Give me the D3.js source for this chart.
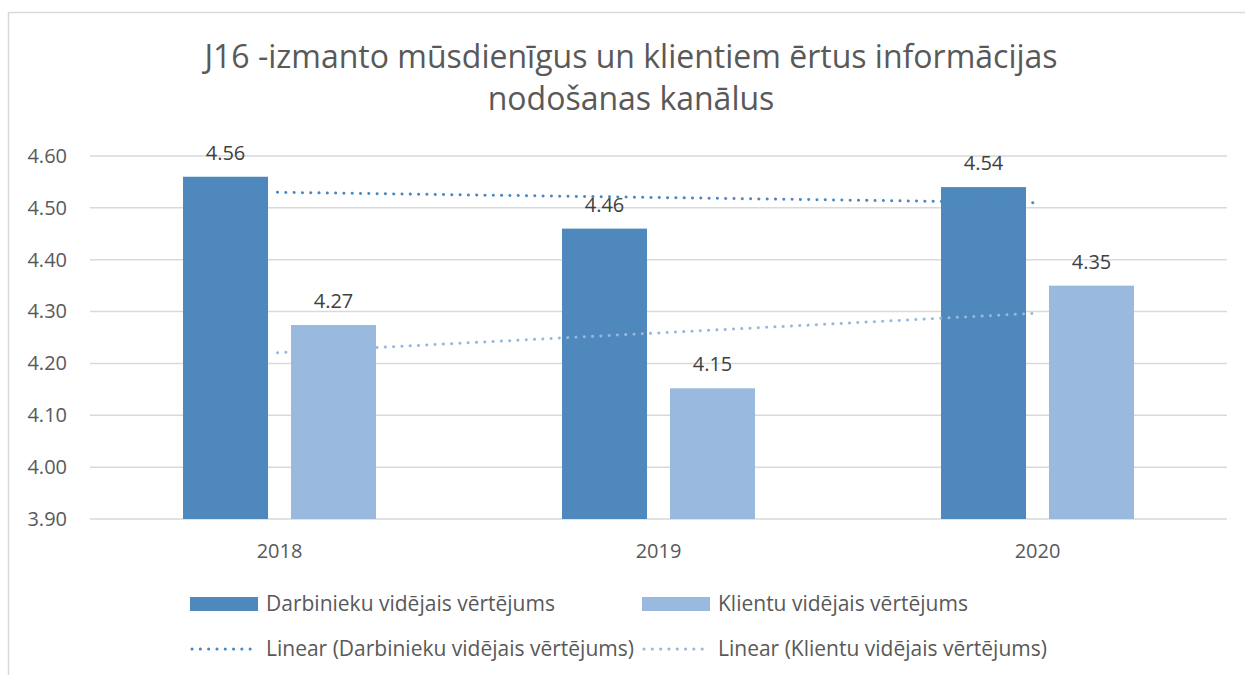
<!DOCTYPE html>
<html>
<head>
<meta charset="utf-8">
<script src="https://cdn.jsdelivr.net/npm/d3@7"></script>
<style>
  body { margin: 0; background: #fff; }
  text { font-family: "Open Sans", sans-serif; }
</style>
</head>
<body>
<div id="chart"></div>
<script>
var svgWidth = 1245;
var svgHeight = 675;

// data
var years = ["2018", "2019", "2020"];
var darbinieki = [4.56, 4.46, 4.54];
var klienti = [4.274, 4.152, 4.35];
var yTicks = [3.9, 4.0, 4.1, 4.2, 4.3, 4.4, 4.5, 4.6];
var seriesNames = ["Darbinieku vidējais vērtējums", "Klientu vidējais vērtējums"];
var titleLines = ["J16 -izmanto mūsdienīgus un klientiem ērtus informācijas", "nodošanas kanālus"];

var colors = ["#4f88bc", "#9ab9df"];
var trendColors = ["#4a86c0", "#95b7e0"];

var plot = { left: 90, right: 1227, top: 156, bottom: 519 };

var svg = d3.select("#chart")
  .append("svg")
  .attr("width", svgWidth)
  .attr("height", svgHeight);

// chart border (only left & top visible in the crop)
svg.append("path")
  .attr("d", "M8.5,675 V12.5 H1245")
  .attr("fill", "none")
  .attr("stroke", "#d9d9d9")
  .attr("stroke-width", 1.5);

// title
svg.append("g").selectAll("text")
  .data(titleLines)
  .enter()
  .append("text")
  .attr("x", 631)
  .attr("y", (d, i) => 68 + i * 42)
  .attr("text-anchor", "middle")
  .attr("font-size", "32px")
  .attr("fill", "#595959")
  .text(d => d);

// scales
var xScale = d3.scaleBand()
  .domain(years)
  .range([plot.left, plot.right]);
var yScale = d3.scaleLinear()
  .domain([3.9, 4.6])
  .range([plot.bottom, plot.top]);

var barW = 85, barGap = 23;
var groupW = barW * 2 + barGap;
function barX(year, s) {
  return xScale(year) + xScale.bandwidth() / 2 - groupW / 2 + s * (barW + barGap);
}

// gridlines
svg.append("g").selectAll("line")
  .data(yTicks)
  .enter()
  .append("line")
  .attr("x1", plot.left)
  .attr("x2", plot.right)
  .attr("y1", d => yScale(d))
  .attr("y2", d => yScale(d))
  .attr("stroke", "#d9d9d9")
  .attr("stroke-width", 1.5);

// y axis labels
var leftAxis = d3.axisLeft(yScale).tickValues(yTicks).tickFormat(d3.format(".2f")).tickSize(0).tickPadding(0);
var yAxisG = svg.append("g")
  .attr("transform", "translate(67,0)")
  .call(leftAxis);
yAxisG.select(".domain").remove();
yAxisG.selectAll("text")
  .attr("font-family", "Open Sans, sans-serif")
  .attr("font-size", "20px")
  .attr("fill", "#595959");

// x axis labels
var bottomAxis = d3.axisBottom(xScale).tickSize(0).tickPadding(0);
var xAxisG = svg.append("g")
  .attr("transform", `translate(0, ${plot.bottom + 25})`)
  .call(bottomAxis);
xAxisG.select(".domain").remove();
xAxisG.selectAll("text")
  .attr("font-family", "Open Sans, sans-serif")
  .attr("font-size", "20px")
  .attr("fill", "#595959");

// bars
var series = [darbinieki, klienti];
series.forEach(function(vals, s) {
  svg.append("g").selectAll("rect")
    .data(vals)
    .enter()
    .append("rect")
    .attr("x", (d, i) => barX(years[i], s))
    .attr("y", d => yScale(d))
    .attr("width", barW)
    .attr("height", d => plot.bottom - yScale(d))
    .attr("fill", colors[s]);

  svg.append("g").selectAll("text")
    .data(vals)
    .enter()
    .append("text")
    .attr("x", (d, i) => barX(years[i], s) + barW / 2)
    .attr("y", d => yScale(d) - 17)
    .attr("text-anchor", "middle")
    .attr("font-size", "20px")
    .attr("fill", "#404040")
    .text(d => d.toFixed(2));
});

// linear trendlines (least squares over x = 1..n)
function linearFit(vals) {
  var xs = vals.map((d, i) => i + 1);
  var mx = d3.mean(xs), my = d3.mean(vals);
  var slope = d3.sum(xs, (x, i) => (x - mx) * (vals[i] - my)) / d3.sum(xs, x => (x - mx) * (x - mx));
  return xs.map(x => my + slope * (x - mx));
}
var trendLine = d3.line()
  .x((d, i) => xScale(years[i]) + xScale.bandwidth() / 2 - 2)
  .y(d => yScale(d));
series.forEach(function(vals, s) {
  svg.append("path")
    .datum(linearFit(vals))
    .attr("d", trendLine)
    .attr("fill", "none")
    .attr("stroke", trendColors[s])
    .attr("stroke-width", 3)
    .attr("stroke-linecap", "round")
    .attr("stroke-dasharray", "0.1,8.2");
});

// legend
var legendX = [190, 642];
var legend = svg.append("g");
seriesNames.forEach(function(name, s) {
  legend.append("rect")
    .attr("x", legendX[s])
    .attr("y", 597)
    .attr("width", 68)
    .attr("height", 14)
    .attr("fill", colors[s]);
  legend.append("text")
    .attr("x", legendX[s] + 76)
    .attr("y", 611)
    .attr("font-size", "21px")
    .attr("fill", "#595959")
    .text(name);
  legend.append("line")
    .attr("x1", legendX[s] + 2)
    .attr("x2", legendX[s] + 68)
    .attr("y1", 649)
    .attr("y2", 649)
    .attr("stroke", trendColors[s])
    .attr("stroke-width", 3)
    .attr("stroke-linecap", "round")
    .attr("stroke-dasharray", "0.1,8.2");
  legend.append("text")
    .attr("x", legendX[s] + 76)
    .attr("y", 656)
    .attr("font-size", "21px")
    .attr("fill", "#595959")
    .text("Linear (" + name + ")");
});
</script>
</body>
</html>
